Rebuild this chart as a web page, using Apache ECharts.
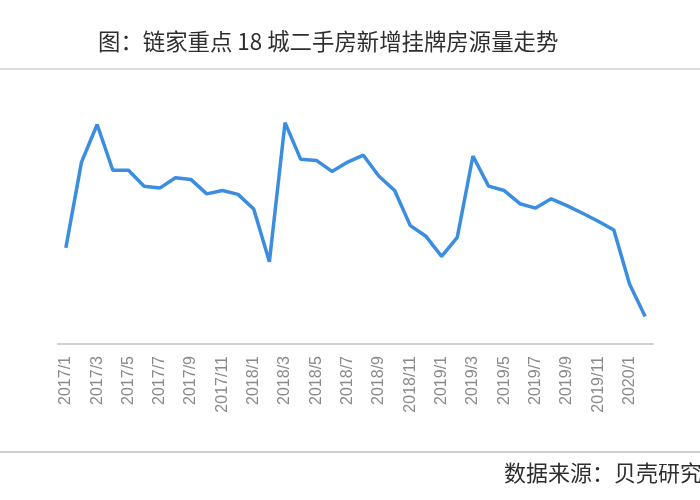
<!DOCTYPE html>
<html>
<head>
<meta charset="utf-8">
<script src="https://cdn.jsdelivr.net/npm/echarts@6/dist/echarts.min.js"></script>
<style>html,body{margin:0;padding:0;background:#fff}#c{width:700px;height:500px}</style>
</head>
<body>
<div id="c"></div>
<script>
var months = ['2017/1','2017/2','2017/3','2017/4','2017/5','2017/6','2017/7','2017/8','2017/9','2017/10','2017/11','2017/12',
  '2018/1','2018/2','2018/3','2018/4','2018/5','2018/6','2018/7','2018/8','2018/9','2018/10','2018/11','2018/12',
  '2019/1','2019/2','2019/3','2019/4','2019/5','2019/6','2019/7','2019/8','2019/9','2019/10','2019/11','2019/12',
  '2020/1','2020/2'];
var listings = [35.1,66.4,80.1,63.4,63.4,57.6,56.9,60.7,60.0,54.8,56.0,54.6,
  49.3,30.0,80.8,67.4,67.0,63.0,66.4,68.9,61.2,56.0,43.2,39.3,
  32.0,38.9,68.6,57.6,56.0,51.2,49.6,53.0,50.5,47.7,44.8,41.6,
  21.9,10.0];
var titleText = '图：链家重点 18 城二手房新增挂牌房源量走势';
var sourceText = '数据来源：贝壳研究院';

var chart = echarts.init(document.getElementById('c'));
chart.setOption({
  animation: false,
  backgroundColor: '#fff',
  title: {
    text: titleText,
    left: 93, top: 25,
    textStyle: { fontSize: 22.4, fontWeight: 'normal', color: '#2e2e2e', fontFamily: 'Noto Sans CJK SC' }
  },
  grid: { left: 58, right: 47, top: 70, bottom: 156 },
  xAxis: {
    type: 'category',
    data: months,
    boundaryGap: true,
    axisLine: { lineStyle: { color: '#d0d0d0', width: 2 } },
    axisTick: { show: false },
    axisLabel: { rotate: 90, interval: 1, margin: 12, color: '#8a8a8a', fontSize: 16, fontFamily: 'Liberation Sans' }
  },
  yAxis: {
    type: 'value', min: 0, max: 100, show: false,
    splitLine: { show: false }
  },
  series: [{
    type: 'line',
    data: listings,
    symbol: 'none',
    lineStyle: { color: '#3b8de0', width: 3.5 }
  }],
  graphic: [
    { type: 'line', shape: { x1: 0, y1: 69, x2: 700, y2: 69 }, style: { stroke: '#dcdcdc', lineWidth: 2 } },
    { type: 'line', shape: { x1: 0, y1: 452, x2: 700, y2: 452 }, style: { stroke: '#cfcfcf', lineWidth: 2 } },
    { type: 'text', left: 504, top: 462, style: { text: sourceText, fontSize: 22, fill: '#2e2e2e', fontFamily: 'Noto Sans CJK SC' } }
  ]
});
</script>
</body>
</html>
